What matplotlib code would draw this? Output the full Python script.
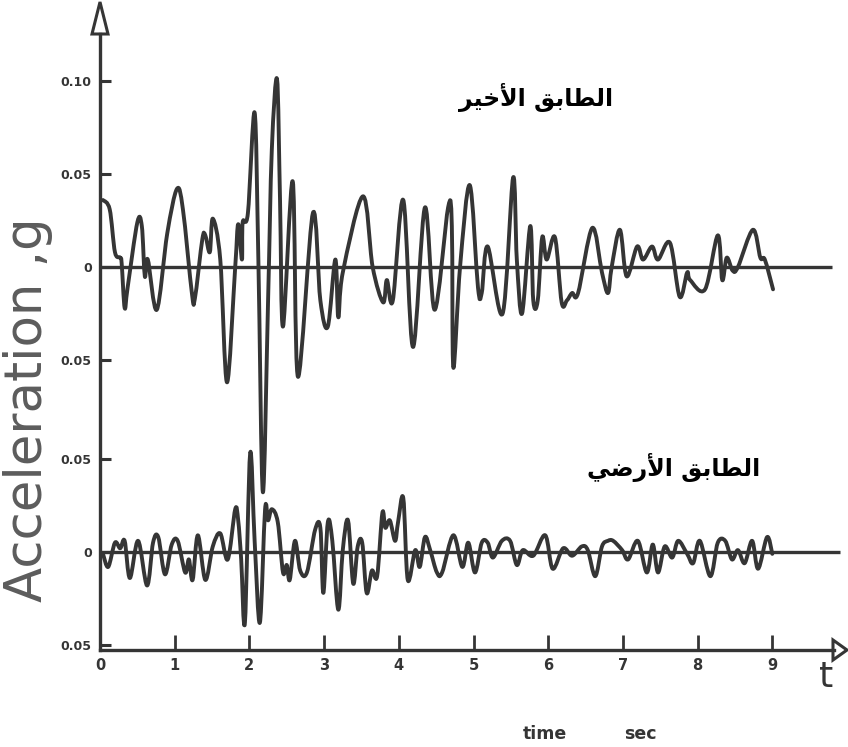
import matplotlib
matplotlib.use("Agg")
import matplotlib.pyplot as plt
from matplotlib.patches import Polygon, PathPatch
from matplotlib.path import Path
from matplotlib import font_manager

# ---------------- data ----------------
# upper trace: top floor ("الطابق الأخير"), time in s, acceleration in g
top_t = [0.04, 0.13, 0.20, 0.27, 0.29, 0.33, 0.37, 0.50, 0.56, 0.60,
         0.64, 0.76, 0.90, 1.03, 1.11, 1.23, 1.27, 1.37, 1.41, 1.47,
         1.51, 1.61, 1.70, 1.81, 1.85, 1.90, 1.91, 1.98, 2.07, 2.12,
         2.18, 2.25, 2.30, 2.37, 2.41, 2.45, 2.58, 2.65, 2.85, 2.95,
         3.05, 3.15, 3.19, 3.25, 3.52, 3.65, 3.79, 3.84, 3.92, 4.06,
         4.19, 4.35, 4.48, 4.66, 4.71, 4.73, 4.82, 4.95, 5.06, 5.11,
         5.19, 5.39, 5.53, 5.58, 5.65, 5.76, 5.80, 5.86, 5.92, 5.98,
         6.09, 6.18, 6.25, 6.32, 6.40, 6.59, 6.72, 6.80, 6.85, 6.96,
         7.05, 7.19, 7.27, 7.39, 7.47, 7.63, 7.76, 7.86, 7.90, 8.10,
         8.27, 8.33, 8.39, 8.47, 8.54, 8.74, 8.84, 8.90, 9.01]
top_a = [0.036, 0.031, 0.008, 0.005, 0.002, -0.022, -0.011, 0.024, 0.022, -0.005,
         0.004, -0.023, 0.018, 0.042, 0.031, -0.014, -0.017, 0.015, 0.017, 0.008,
         0.026, 0.004, -0.062, 0.000, 0.023, 0.004, 0.024, 0.029, 0.083, 0.004,
         -0.121, -0.018, 0.063, 0.101, 0.036, -0.032, 0.046, -0.059, 0.029, -0.018,
         -0.032, 0.004, -0.027, -0.003, 0.038, 0.000, -0.019, -0.007, -0.018, 0.036,
         -0.043, 0.032, -0.023, 0.032, 0.022, -0.054, 0.000, 0.044, -0.011, -0.014,
         0.011, -0.025, 0.048, 0.004, -0.025, 0.022, -0.018, -0.018, 0.016, 0.004,
         0.016, -0.019, -0.018, -0.014, -0.014, 0.021, -0.003, -0.014, 0.000, 0.020,
         -0.005, 0.011, 0.004, 0.011, 0.004, 0.013, -0.016, -0.003, -0.007, -0.012,
         0.017, -0.007, 0.005, -0.002, 0.000, 0.020, 0.005, 0.004, -0.012]

# lower trace: ground floor ("الطابق الأرضي")
gnd_t = [0.04, 0.11, 0.20, 0.27, 0.33, 0.40, 0.51, 0.63, 0.71, 0.78,
         0.87, 0.96, 1.04, 1.14, 1.19, 1.24, 1.31, 1.41, 1.51, 1.61,
         1.71, 1.81, 1.85, 1.89, 1.94, 2.01, 2.07, 2.14, 2.21, 2.25,
         2.30, 2.38, 2.45, 2.50, 2.54, 2.61, 2.68, 2.77, 2.88, 2.95,
         2.99, 3.05, 3.11, 3.19, 3.25, 3.32, 3.39, 3.45, 3.51, 3.57,
         3.64, 3.71, 3.78, 3.82, 3.88, 3.95, 3.99, 4.06, 4.12, 4.22,
         4.28, 4.35, 4.42, 4.51, 4.58, 4.73, 4.85, 4.93, 5.02, 5.11,
         5.19, 5.26, 5.38, 5.49, 5.58, 5.66, 5.80, 5.96, 6.06, 6.20,
         6.32, 6.45, 6.53, 6.63, 6.72, 6.80, 6.87, 6.99, 7.07, 7.20,
         7.32, 7.40, 7.47, 7.56, 7.66, 7.74, 7.86, 7.94, 8.03, 8.17,
         8.27, 8.37, 8.46, 8.54, 8.63, 8.73, 8.81, 8.93, 9.00]
gnd_a = [-0.001, -0.008, 0.005, 0.002, 0.006, -0.014, 0.006, -0.018, 0.005, 0.008,
         -0.012, 0.004, 0.006, -0.011, -0.004, -0.015, 0.009, -0.015, 0.003, 0.010,
         -0.004, 0.023, 0.017, -0.004, -0.038, 0.053, 0.006, -0.038, 0.023, 0.017,
         0.023, 0.016, -0.011, -0.007, -0.015, 0.006, -0.010, -0.011, 0.012, 0.013,
         -0.022, 0.016, 0.006, -0.031, 0.001, 0.017, -0.017, 0.003, 0.005, -0.022,
         -0.010, -0.013, 0.021, 0.013, 0.017, 0.006, 0.016, 0.029, -0.015, 0.001,
         -0.008, 0.008, 0.001, -0.011, -0.011, 0.009, -0.008, 0.005, -0.011, 0.005,
         0.005, -0.003, 0.006, 0.006, -0.007, 0.001, -0.002, 0.009, -0.009, 0.002,
         -0.002, 0.003, 0.001, -0.013, 0.003, 0.006, 0.006, 0.001, -0.004, 0.006,
         -0.011, 0.004, -0.011, 0.003, -0.003, 0.006, -0.001, -0.006, 0.006, -0.013,
         0.005, 0.006, -0.004, 0.001, -0.006, 0.006, -0.009, 0.008, -0.001]

x_ticks = [0, 1, 2, 3, 4, 5, 6, 7, 8, 9]
y_tick_values = [-0.05, 0.0, 0.05, -0.05, 0.0, 0.05, 0.10]   # lower three, upper four
y_tick_labels = ["0.05", "0", "0.05", "0.05", "0", "0.05", "0.10"]
label_top = "الطابق الأخير"
label_gnd = "الطابق الأرضي"
# --------------------------------------

# minimal Arabic shaping (matplotlib has no complex text layout)
_FORMS = {  # isolated, final, initial, medial
    "\u0627": ("\uFE8D", "\uFE8E", None, None),
    "\u0623": ("\uFE83", "\uFE84", None, None),
    "\u0644": ("\uFEDD", "\uFEDE", "\uFEDF", "\uFEE0"),
    "\u0637": ("\uFEC1", "\uFEC2", "\uFEC3", "\uFEC4"),
    "\u0628": ("\uFE8F", "\uFE90", "\uFE91", "\uFE92"),
    "\u0642": ("\uFED5", "\uFED6", "\uFED7", "\uFED8"),
    "\u062E": ("\uFEA5", "\uFEA6", "\uFEA7", "\uFEA8"),
    "\u064A": ("\uFEF1", "\uFEF2", "\uFEF3", "\uFEF4"),
    "\u0631": ("\uFEAD", "\uFEAE", None, None),
    "\u0636": ("\uFEBD", "\uFEBE", "\uFEBF", "\uFEC0"),
}
_LAMALEF = {"\u0627": ("\uFEFB", "\uFEFC"), "\u0623": ("\uFEF7", "\uFEF8")}


def shape_arabic(text):
    out_words = []
    for word in text.split(" "):
        units = []
        i = 0
        while i < len(word):
            c = word[i]
            if c == "\u0644" and i + 1 < len(word) and word[i + 1] in _LAMALEF:
                units.append(("LA", word[i + 1]))
                i += 2
            else:
                units.append(("C", c))
                i += 1

        def dual(u):
            if u[0] == "LA":
                return False
            f = _FORMS.get(u[1])
            return f is not None and f[2] is not None

        shaped = []
        for k, u in enumerate(units):
            jp = k > 0 and dual(units[k - 1])
            jn = k + 1 < len(units) and dual(u)
            if u[0] == "LA":
                iso, fin = _LAMALEF[u[1]]
                shaped.append(fin if jp else iso)
                continue
            f = _FORMS.get(u[1])
            if f is None:
                shaped.append(u[1])
            elif jp and jn:
                shaped.append(f[3])
            elif jp:
                shaped.append(f[1])
            elif jn:
                shaped.append(f[2])
            else:
                shaped.append(f[0])
        out_words.append("".join(shaped))
    return " ".join(out_words)[::-1]


def smooth_path(xs, ys, k=1 / 6.0):
    """Catmull-Rom style cubic Bezier path through the given points."""
    n = len(xs)
    verts = [(xs[0], ys[0])]
    codes = [Path.MOVETO]
    for i in range(n - 1):
        x0, y0 = (xs[i - 1], ys[i - 1]) if i > 0 else (xs[i], ys[i])
        x1, y1 = xs[i], ys[i]
        x2, y2 = xs[i + 1], ys[i + 1]
        x3, y3 = (xs[i + 2], ys[i + 2]) if i + 2 < n else (x2, y2)
        c1 = (x1 + (x2 - x0) * k, y1 + (y2 - y0) * k)
        c2 = (x2 - (x3 - x1) * k, y2 - (y3 - y1) * k)
        verts += [c1, c2, (x2, y2)]
        codes += [Path.CURVE4] * 3
    return Path(verts, codes)


# geometry (pixel-based calibration of the original)
W, H = 848, 747
PX_PER_S = 74.7
PX_PER_G = 1860.0
X0_PX, AX_BOTTOM_PX, GND_BASE_PX, TOP_BASE_PX = 100, 650, 552, 267
OFFSET = (GND_BASE_PX - TOP_BASE_PX) / PX_PER_G

ink = "#353535"

available = {f.name for f in font_manager.fontManager.ttflist}
tick_family = ["Liberation Sans Narrow", "DejaVu Sans"] if "Liberation Sans Narrow" in available else ["DejaVu Sans"]

fig = plt.figure(figsize=(W / 100, H / 100), dpi=100)
ax = fig.add_axes([X0_PX / W, (H - AX_BOTTOM_PX) / H, (W - X0_PX) / W, AX_BOTTOM_PX / H])
xmax = (W - X0_PX) / PX_PER_S
ymin = -(AX_BOTTOM_PX - GND_BASE_PX) / PX_PER_G
ymax = GND_BASE_PX / PX_PER_G
ax.set_xlim(0, xmax)
ax.set_ylim(ymin, ymax)
for s in ["top", "right"]:
    ax.spines[s].set_visible(False)
for s in ["left", "bottom"]:
    ax.spines[s].set_linewidth(2.4)
    ax.spines[s].set_color(ink)
ax.spines["left"].set_bounds(ymin, ymax - 34 / PX_PER_G)
ax.spines["bottom"].set_bounds(0, xmax - 14 / PX_PER_S)

# arrows (hollow triangles)
sx, sy = 1 / PX_PER_S, 1 / PX_PER_G
ax.add_patch(Polygon([(-8 * sx, ymax - 34 * sy), (8 * sx, ymax - 34 * sy), (0, ymax - 2 * sy)],
                     closed=True, fill=True, facecolor="white", edgecolor=ink, lw=2.2, clip_on=False))
ax.add_patch(Polygon([(xmax - 15 * sx, ymin + 10 * sy), (xmax - 15 * sx, ymin - 10 * sy), (xmax - 1 * sx, ymin)],
                     closed=True, fill=True, facecolor="white", edgecolor=ink, lw=2.2, clip_on=False))

# baselines
ax.plot([0, (832 - X0_PX) / PX_PER_S], [OFFSET, OFFSET], color=ink, lw=2.4, solid_capstyle="butt")
ax.plot([0, (840 - X0_PX) / PX_PER_S], [0, 0], color=ink, lw=2.4, solid_capstyle="butt")

# traces (smooth curves through the read points)
ax.add_patch(PathPatch(smooth_path(top_t, [a + OFFSET for a in top_a]), fill=False,
                       edgecolor=ink, lw=2.8, joinstyle="round", capstyle="round", clip_on=False))
ax.add_patch(PathPatch(smooth_path(gnd_t, gnd_a), fill=False,
                       edgecolor=ink, lw=2.8, joinstyle="round", capstyle="round", clip_on=False))

# ticks
yt = [v for v in y_tick_values[:3]] + [v + OFFSET for v in y_tick_values[3:]]
ax.set_yticks(yt)
ax.set_yticklabels(y_tick_labels, fontsize=9, fontweight="bold", color=ink, family=tick_family)
ax.set_xticks(x_ticks)
ax.set_xticklabels([str(v) for v in x_ticks], fontsize=10.5, fontweight="bold", color=ink, family=tick_family)
ax.tick_params(axis="y", direction="in", length=8, width=2.2, color=ink, pad=6)
ax.tick_params(axis="x", direction="in", length=11, width=2.0, color=ink, pad=6)

# texts
fig.text(28 / W, 1 - 410 / H, "Acceleration ,g", rotation=90, ha="center", va="center",
         fontsize=37, color="#5c5c5c", family="DejaVu Sans")
fig.text(826 / W, 1 - 677 / H, "t", ha="center", va="center", fontsize=26, color=ink, zorder=10)
fig.text(545 / W, 1 - 734 / H, "time", ha="center", va="center", fontsize=12.5, fontweight="bold", color=ink)
fig.text(640 / W, 1 - 734 / H, "sec", ha="center", va="center", fontsize=12.5, fontweight="bold", color=ink)
fig.text(536 / W, 1 - 97 / H, shape_arabic(label_top), ha="center", va="center",
         fontsize=17, fontweight="bold", color="black", family=["DejaVu Sans"])
fig.text(674 / W, 1 - 467 / H, shape_arabic(label_gnd), ha="center", va="center",
         fontsize=17, fontweight="bold", color="black", family=["DejaVu Sans"])

fig.savefig("out.png", dpi=100, facecolor="white")
